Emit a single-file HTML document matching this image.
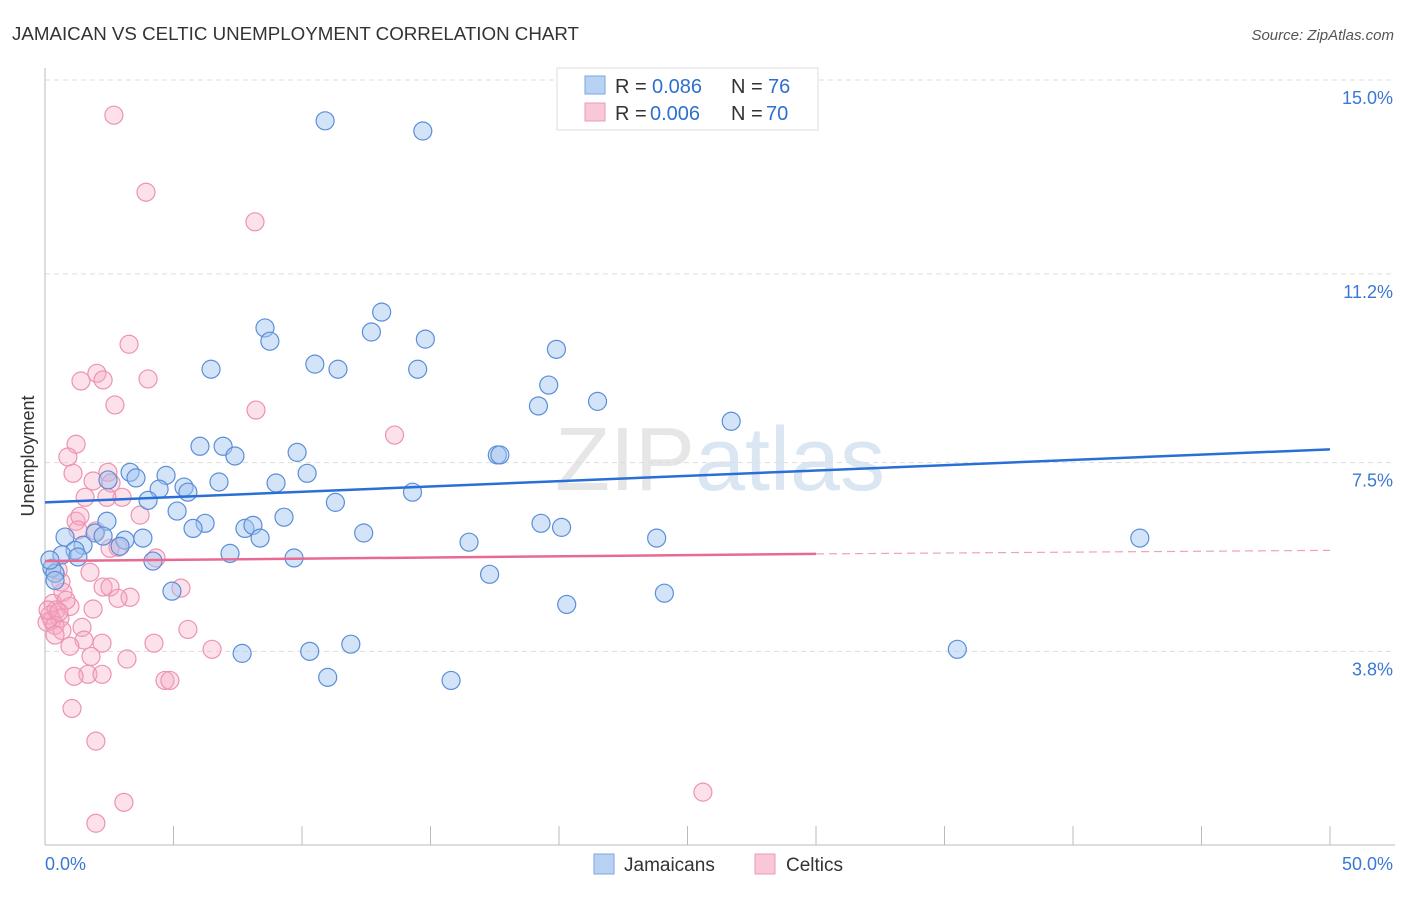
<!DOCTYPE html>
<html><head><meta charset="utf-8"><style>
body{margin:0;background:#fff;font-family:"Liberation Sans",sans-serif;}
svg text{font-family:"Liberation Sans",sans-serif;}
</style></head><body>
<svg id="chart" width="1406" height="892" xmlns="http://www.w3.org/2000/svg">
<text x="12" y="40" font-size="18" fill="#333" textLength="567" lengthAdjust="spacingAndGlyphs">JAMAICAN VS CELTIC UNEMPLOYMENT CORRELATION CHART</text>
<text x="1394" y="40" font-size="15" fill="#555" font-style="italic" text-anchor="end">Source: ZipAtlas.com</text>
<text x="720" y="490" font-size="90" fill="#e6e6e6" text-anchor="middle" font-family="Liberation Serif">ZIP<tspan fill="#dbe6f3" font-family="Liberation Sans">atlas</tspan></text>
<text transform="translate(34,456) rotate(-90)" font-size="18" fill="#333" text-anchor="middle">Unemployment</text>
<g id="grid"></g><g id="axes"></g><g id="pts"></g><g id="trend"></g>
<g>
<rect x="557" y="68" width="261" height="62" fill="#fff" stroke="#ddd"/>
<rect x="585" y="76" width="20" height="18" fill="#b8d2f4" stroke="#7aa6e0"/>
<text x="615" y="93" font-size="20" fill="#333">R =</text>
<text x="652" y="93" font-size="20" fill="#2f6fd0">0.086</text>
<text x="731" y="93" font-size="20" fill="#333">N =</text>
<text x="768" y="93" font-size="20" fill="#2f6fd0">76</text>
<rect x="585" y="103" width="20" height="18" fill="#f8c8d8" stroke="#ec9ab4"/>
<text x="615" y="120" font-size="20" fill="#333">R =</text>
<text x="650" y="120" font-size="20" fill="#2f6fd0">0.006</text>
<text x="731" y="120" font-size="20" fill="#333">N =</text>
<text x="766" y="120" font-size="20" fill="#2f6fd0">70</text>
</g>
<g>
<rect x="594" y="854" width="20" height="20" fill="#b8d2f4" stroke="#7aa6e0"/>
<text x="624" y="871" font-size="19" fill="#333">Jamaicans</text>
<rect x="755" y="854" width="20" height="20" fill="#f8c8d8" stroke="#ec9ab4"/>
<text x="786" y="871" font-size="19" fill="#333">Celtics</text>
</g>
</svg>
<script>
const blueX=[10.9,14.7,13.1,8.56,12.7,8.75,14.8,19.9,6.46,10.5,11.4,14.5,19.6,21.5,19.2,26.7,6.03,6.93,7.39,9.81,17.6,17.7,3.31,2.45,3.54,4.71,10.2,6.77,8.99,4.44,5.41,5.56,14.3,4.01,11.3,5.14,2.41,6.23,9.30,19.3,7.78,8.09,20.1,5.76,1.95,2.26,3.11,3.81,0.78,8.37,12.4,16.5,23.8,42.6,2.92,1.48,1.17,0.66,7.20,1.28,9.69,4.20,0.27,0.39,17.3,4.94,24.1,20.3,7.67,10.3,11.9,35.5,11.0,15.8,0.39,0.19];
const blueY=[14.2,14.0,10.45,10.14,10.06,9.88,9.92,9.72,9.33,9.43,9.33,9.33,9.02,8.70,8.61,8.31,7.82,7.82,7.63,7.70,7.65,7.65,7.31,7.16,7.20,7.25,7.29,7.12,7.10,6.98,7.02,6.92,6.92,6.76,6.72,6.55,6.35,6.31,6.43,6.31,6.21,6.27,6.23,6.21,6.12,6.06,5.98,6.02,6.04,6.02,6.12,5.94,6.02,6.02,5.86,5.88,5.78,5.69,5.72,5.65,5.63,5.57,5.43,5.33,5.31,4.98,4.94,4.72,3.76,3.80,3.94,3.84,3.29,3.23,5.19,5.59];
const pinkX=[2.68,3.93,8.17,3.27,1.40,2.02,2.26,4.01,2.72,8.21,13.6,1.21,0.89,1.09,2.45,1.87,2.57,1.56,3.00,3.70,1.21,1.36,1.28,1.98,2.84,4.32,1.75,0.62,5.29,2.26,2.53,3.31,2.84,0.70,0.31,0.97,1.87,0.43,0.19,0.27,0.58,0.08,1.44,0.39,0.66,5.56,1.52,2.22,4.24,0.97,6.50,1.79,3.19,1.67,1.13,2.22,4.67,4.86,1.05,1.98,3.07,25.6,1.98,0.51,0.12,0.39,2.41,2.53,0.82,0.54];
const pinkY=[14.31,12.80,12.22,9.82,9.10,9.25,9.12,9.14,8.63,8.53,8.04,7.86,7.61,7.29,7.31,7.14,7.10,6.82,6.82,6.47,6.35,6.45,6.18,6.16,5.84,5.63,5.35,5.16,5.04,5.06,5.06,4.86,4.84,4.96,4.74,4.68,4.63,4.61,4.51,4.41,4.45,4.37,4.27,4.31,4.21,4.23,4.02,3.96,3.96,3.90,3.84,3.70,3.65,3.35,3.31,3.35,3.23,3.23,2.68,2.04,0.84,1.04,0.43,5.39,4.61,4.12,6.82,5.82,4.80,4.57];
const yTicks=[15.0,11.2,7.5,3.8];
const yTickLabels=["15.0%","11.2%","7.5%","3.8%"];
const blueTrend=[6.72,7.76];
const pinkTrend=[5.57,5.71,5.78];
const NS="http://www.w3.org/2000/svg";
const xs=v=>45+v/50*1285;
const ys=v=>80+(15-v)/3.75*191.3;
function mk(t,a,p){const e=document.createElementNS(NS,t);for(const k in a)e.setAttribute(k,a[k]);document.getElementById(p).appendChild(e);return e;}
yTicks.forEach((t,i)=>{
 const g=mk('line',{x1:45,x2:1395,y1:ys(t),y2:ys(t),stroke:'#ddd','stroke-dasharray':'5,4'},'grid');
 
 
 const l=mk('text',{x:1393,y:ys(t)+24,'font-size':18,fill:'#3a78d4','text-anchor':'end'},'grid');
 l.textContent=yTickLabels[i];
 
 
});
const ax=mk('line',{x1:45,x2:45,y1:68,y2:845,stroke:'#bbb'},'axes');


const bx=mk('line',{x1:45,x2:1395,y1:845,y2:845,stroke:'#bbb'},'axes');


for(let i=0;i<=10;i++){
 const tk=mk('line',{x1:xs(i*5),x2:xs(i*5),y1:826,y2:845,stroke:'#bbb'},'axes');
 
 
}
const x0=mk('text',{x:45,y:870,'font-size':18,fill:'#3a78d4'},'axes');x0.textContent='0.0%';


const x1=mk('text',{x:1393,y:870,'font-size':18,fill:'#3a78d4','text-anchor':'end'},'axes');x1.textContent='50.0%';


pinkX.forEach((x,i)=>{
 const c=mk('circle',{cx:xs(x),cy:ys(pinkY[i]),r:9,fill:'rgba(245,170,195,0.35)',stroke:'#ec93b0','stroke-width':1.2},'pts');
 
 
});
blueX.forEach((x,i)=>{
 const c=mk('circle',{cx:xs(x),cy:ys(blueY[i]),r:9,fill:'rgba(160,196,240,0.45)',stroke:'#5b8ed8','stroke-width':1.2},'pts');
 
 
});
const bt=mk('line',{x1:xs(0),y1:ys(blueTrend[0]),x2:xs(50),y2:ys(blueTrend[1]),stroke:'#2a6fd6','stroke-width':2.5},'trend');


const pt=mk('line',{x1:xs(0),y1:ys(pinkTrend[0]),x2:xs(30),y2:ys(pinkTrend[1]),stroke:'#e86a92','stroke-width':2.5},'trend');


const pd=mk('line',{x1:xs(30),y1:ys(pinkTrend[1]),x2:xs(50),y2:ys(pinkTrend[2]),stroke:'#f0a0b8','stroke-width':1.2,'stroke-dasharray':'8,5'},'trend');


</script>
</body></html>
